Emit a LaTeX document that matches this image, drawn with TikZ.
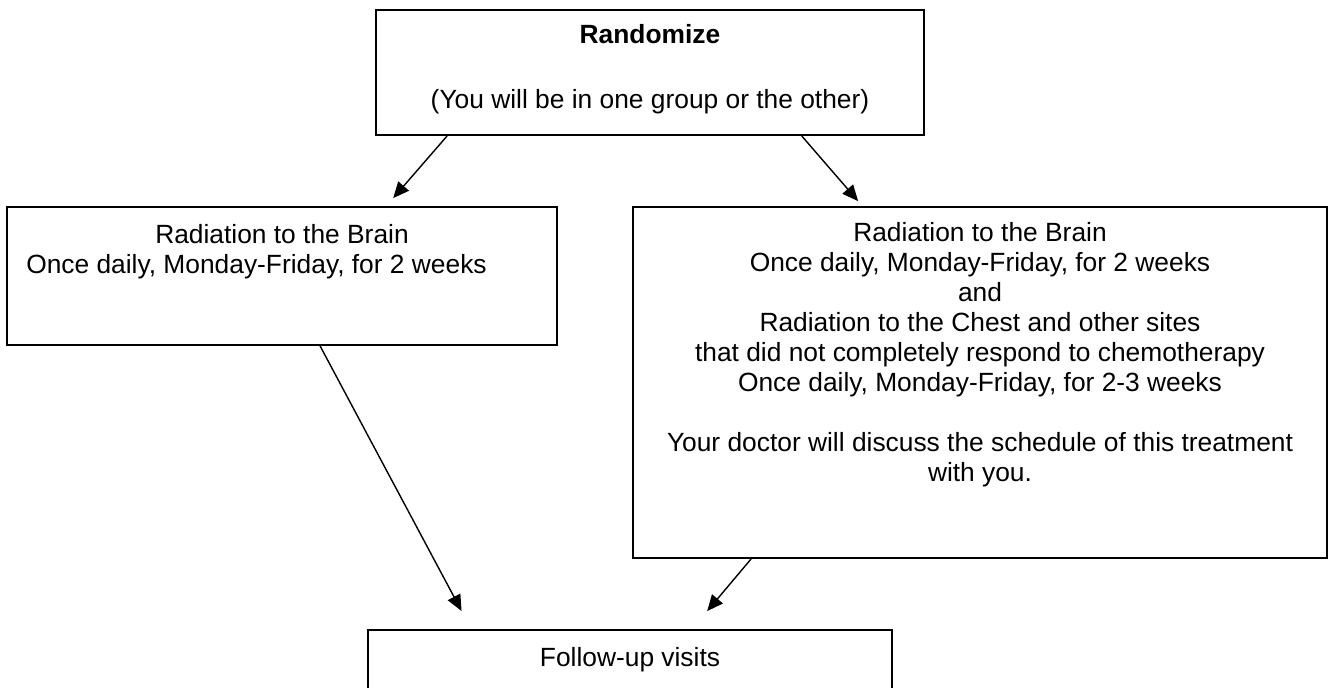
\documentclass[tikz,border=0pt]{standalone}
\usepackage{fontspec}
\setmainfont{Liberation Sans}
\usetikzlibrary{arrows.meta, positioning, calc}

\begin{document}
\begin{tikzpicture}[
  x=0.02cm, y=-0.02cm,
  every node/.style={font=\fontsize{15}{17.07}\selectfont},
  box/.style={draw, line width=1.1pt, inner sep=0pt},
  txt/.style={align=center, inner sep=0pt},
  arr/.style={-{Triangle[length=0.32cm, width=0.28cm]}, line width=0.8pt},
]
  \useasboundingbox (0,0) rectangle (1329,687);
  \clip (0,0) rectangle (1329,687);

  \node[box, minimum width=10.96cm, minimum height=2.5cm] (rand) at (650,72.5) {};
  \node[box, minimum width=11cm, minimum height=2.76cm] (brain) at (282,276) {};
  \node[box, minimum width=13.88cm, minimum height=7.02cm] (combo) at (980,382.5) {};
  \node[box, minimum width=10.48cm, minimum height=2cm] (follow) at (630,680) {};

  \node[txt, below=0.3cm of rand.north] (randtxt)
    {\textbf{Randomize}\\[20pt](You will be in one group or the other)};
  \node[txt, below=0.36cm of brain.north] (braintxt)
    {Radiation to the Brain\\Once daily, Monday-Friday, for 2 weeks\hspace*{1.02cm}};
  \node[txt, below=0.32cm of combo.north] (combotxt)
    {Radiation to the Brain\\
     Once daily, Monday-Friday, for 2 weeks\\
     and\\
     Radiation to the Chest and other sites\\
     that did not completely respond to chemotherapy\\
     Once daily, Monday-Friday, for 2-3 weeks\\[17.07pt]
     Your doctor will discuss the schedule of this treatment\\
     with you.};
  \node[txt, below=0.36cm of follow.north] (followtxt) {Follow-up visits};

  \draw[arr, shorten >=0.21cm] ($(rand.south west)!0.131!(rand.south east)$)
    -- ($(brain.north west)!0.689!(brain.north east)$);
  \draw[arr, shorten >=0.13cm] ($(rand.south west)!0.776!(rand.south east)$)
    -- ($(combo.north west)!0.331!(combo.north east)$);
  \draw[arr, shorten >=0.41cm] ($(brain.south west)!0.569!(brain.south east)$)
    -- ($(follow.north west)!0.198!(follow.north east)$);
  \draw[arr, shorten >=0.47cm] ($(combo.south west)!0.171!(combo.south east)$)
    -- ($(follow.north west)!0.618!(follow.north east)$);
\end{tikzpicture}
\end{document}
